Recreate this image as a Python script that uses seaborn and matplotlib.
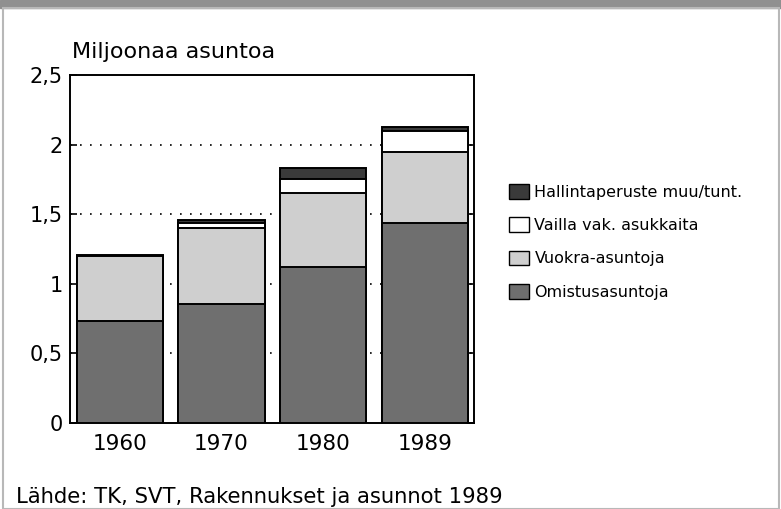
import matplotlib
matplotlib.use("Agg")
import matplotlib.pyplot as plt
import seaborn as sns
import pandas as pd
import numpy as np
from matplotlib.patches import Rectangle, Patch

years = ["1960", "1970", "1980", "1989"]
omistus = [0.733, 0.855, 1.12, 1.435]
vuokra = [0.467, 0.545, 0.532, 0.517]
vailla = [0.0, 0.037, 0.101, 0.148]
muu = [0.005, 0.021, 0.081, 0.026]

series_names = ["Omistusasuntoja", "Vuokra-asuntoja", "Vailla vak. asukkaita", "Hallintaperuste muu/tunt."]
colors = ["#6f6f6f", "#cfcfcf", "#ffffff", "#3a3a3a"]
yticks = [0, 0.5, 1, 1.5, 2, 2.5]
ytick_labels = ["0", "0,5", "1", "1,5", "2", "2,5"]

sns.set_style("white")
plt.rcParams["font.family"] = ["DejaVu Sans"]
plt.rcParams["text.color"] = "black"
plt.rcParams["xtick.color"] = "black"
plt.rcParams["ytick.color"] = "black"
plt.rcParams["axes.labelcolor"] = "black"

fig = plt.figure(figsize=(7.81, 5.09), dpi=100)
fig.patch.set_facecolor("white")
# top grey band and frame
fig.patches.append(Rectangle((0, 0.985), 1, 0.015, transform=fig.transFigure, color="#909090", zorder=0))
fig.patches.append(Rectangle((0.004, 0.0), 0.993, 0.985, transform=fig.transFigure, fill=False, edgecolor="#b8b8b8", lw=1.5, zorder=0))

ax = fig.add_axes([0.0896, 0.169, 0.517, 0.683])

stack = np.array([omistus, vuokra, vailla, muu])
cum = np.cumsum(stack, axis=0)
for i in range(3, -1, -1):
    df = pd.DataFrame({"year": years, "value": cum[i]})
    sns.barplot(data=df, x="year", y="value", color=colors[i], ax=ax, width=0.846,
                edgecolor="black", linewidth=1.4, saturation=1, zorder=3)

ax.set_ylim(0, 2.5)
ax.set_xlim(-0.49, 3.48)
ax.set_yticks(yticks)
ax.set_yticklabels(ytick_labels, fontsize=15)
ax.tick_params(axis="x", length=0, labelsize=15.5, pad=8, colors="black")
ax.tick_params(axis="y", direction="in", length=5, right=True, left=True, labelsize=15, pad=5, width=1.2, colors="black")
for y in [0.5, 1, 1.5, 2]:
    ax.axhline(y, color="black", lw=1.2, ls=(0, (1, 5)), zorder=1)
ax.set_xlabel("")
ax.set_ylabel("")
for s in ax.spines.values():
    s.set_visible(True)
    s.set_color("black")
    s.set_linewidth(1.4)

fig.text(0.092, 0.886, "Miljoonaa asuntoa", fontsize=16, ha="left", va="baseline", color="black")

handles = [Patch(facecolor=colors[i], edgecolor="black", lw=1.0) for i in range(3, -1, -1)]
labels = [series_names[i] for i in range(3, -1, -1)]
fig.legend(handles, labels, loc="upper left", bbox_to_anchor=(0.633, 0.666), frameon=False,
           fontsize=11.5, handlelength=1.25, handleheight=1.05, handletextpad=0.36, labelspacing=1.08,
           labelcolor="black")

fig.text(0.021, 0.012, "Lähde: TK, SVT, Rakennukset ja asunnot 1989", fontsize=15.2, ha="left", va="baseline", color="black")

fig.savefig("out.png", dpi=100)
